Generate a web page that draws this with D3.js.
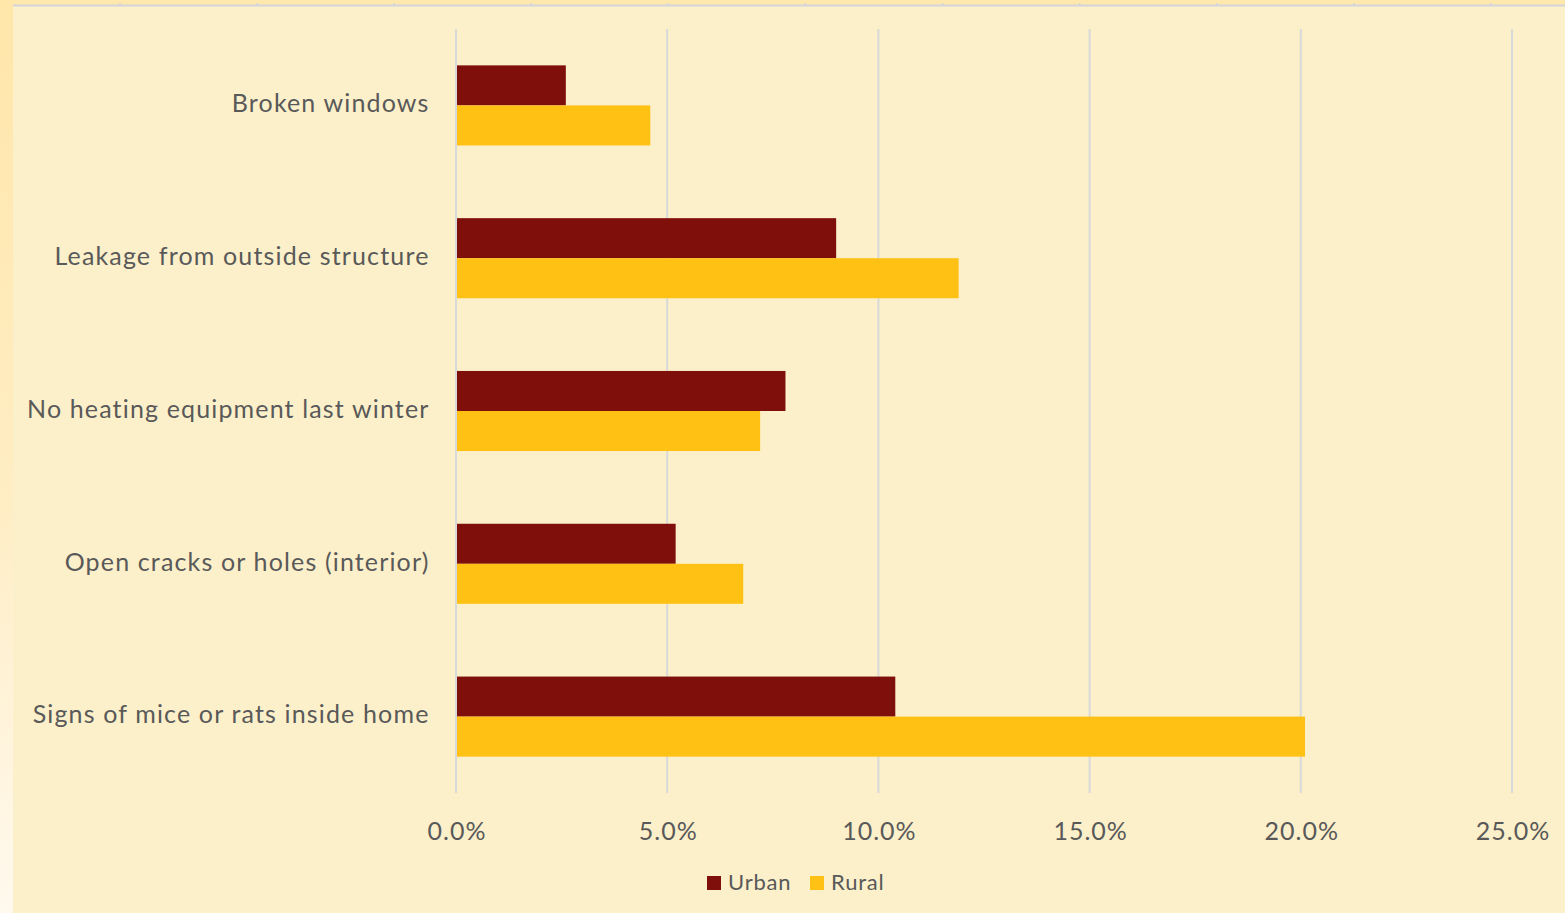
<!DOCTYPE html>
<html>
<head>
<meta charset="utf-8">
<script src="https://cdn.jsdelivr.net/npm/d3@7"></script>
<style>
  html, body { margin: 0; padding: 0; background: #FCF0CA; }
  svg { display: block; }
  text { font-family: Lato, "Open Sans", sans-serif; fill: #595959; }
</style>
</head>
<body>
<svg id="chart" width="1565" height="913"></svg>
<script>
// Housing problems by area type (share of households)
const categories = [
  "Broken windows",
  "Leakage from outside structure",
  "No heating equipment last winter",
  "Open cracks or holes (interior)",
  "Signs of mice or rats inside home"
];
const seriesNames = ["Urban", "Rural"];
const urbanValues = [2.6, 9.0, 7.8, 5.2, 10.4];
const ruralValues = [4.6, 11.9, 7.2, 6.8, 20.1];
const xTicks = [0, 5, 10, 15, 20, 25];
const colors = ["#7F0F0A", "#FFC114"];

const W = 1565, H = 913;
const svg = d3.select("#chart");

// page background, left and top frame strips
const defs = svg.append("defs");
const grad = defs.append("linearGradient").attr("id", "leftStrip")
  .attr("x1", 0).attr("y1", 0).attr("x2", 0).attr("y2", 1);
grad.append("stop").attr("offset", "0%").attr("stop-color", "#FFE6A9");
grad.append("stop").attr("offset", "55%").attr("stop-color", "#FFEDC4");
grad.append("stop").attr("offset", "100%").attr("stop-color", "#FFF9EE");

svg.append("rect").attr("x", 0).attr("y", 0).attr("width", W).attr("height", H).attr("fill", "#FCF0CA");
svg.append("rect").attr("x", 0).attr("y", 0).attr("width", W).attr("height", 5).attr("fill", "#FFE8AE");
svg.append("rect").attr("x", 0).attr("y", 0).attr("width", 13).attr("height", H).attr("fill", "url(#leftStrip)");
svg.append("line").attr("x1", 13).attr("x2", W).attr("y1", 5.5).attr("y2", 5.5)
  .attr("stroke", "#D3D3DA").attr("stroke-width", 2);
const topTicks = d3.range(120, W, 137.1);
svg.append("g").selectAll("line").data(topTicks).join("line")
  .attr("x1", d => d).attr("x2", d => d).attr("y1", 3).attr("y2", 5)
  .attr("stroke", "#D3D3DA").attr("stroke-width", 1.5);

// scales
const x = d3.scaleLinear().domain([0, 25]).range([456, 1512]);
const y = d3.scaleBand().domain(categories).range([29, 793]).paddingInner(0.476).paddingOuter(0.238);
const ySub = d3.scaleBand().domain(seriesNames).range([0, y.bandwidth()]);

// gridlines
svg.append("g").selectAll("line").data(xTicks).join("line")
  .attr("x1", d => x(d)).attr("x2", d => x(d))
  .attr("y1", 29).attr("y2", 793)
  .attr("stroke", "#D9D9D9").attr("stroke-width", 2);

// bars
const rows = categories.map((c, i) => ({ cat: c, vals: [urbanValues[i], ruralValues[i]] }));
const groups = svg.append("g").selectAll("g").data(rows).join("g")
  .attr("transform", d => `translate(0,${y(d.cat)})`);
groups.selectAll("rect").data(d => d.vals.map((v, k) => ({ v, s: seriesNames[k], k })))
  .join("rect")
  .attr("x", x(0) + 1)
  .attr("y", d => ySub(d.s))
  .attr("width", d => x(d.v) - x(0) - 1)
  .attr("height", ySub.bandwidth())
  .attr("fill", d => colors[d.k]);

// category labels
const yAxis = d3.axisLeft(y).tickSize(0).tickPadding(0);
const gy = svg.append("g").attr("transform", "translate(429.5,-2)").call(yAxis);
gy.select(".domain").remove();
gy.selectAll("text")
  .attr("font-size", 25).attr("fill", "#595959")
  .attr("letter-spacing", 1.15)
  .style("font-family", "Lato, 'Open Sans', sans-serif")
  .attr("dy", "0.35em");

// value axis labels
const xAxis = d3.axisBottom(x).tickValues(xTicks).tickSize(0).tickPadding(0)
  .tickFormat(d => d3.format(".1f")(d) + "%");
const gx = svg.append("g").attr("transform", "translate(0.5,831)").call(xAxis);
gx.select(".domain").remove();
gx.selectAll("text")
  .attr("font-size", 25).attr("fill", "#595959")
  .attr("letter-spacing", 1.0)
  .style("font-family", "Lato, 'Open Sans', sans-serif")
  .attr("y", 0).attr("dy", "0.35em");

// legend
const legendItems = [
  { name: seriesNames[0], color: colors[0], x: 707 },
  { name: seriesNames[1], color: colors[1], x: 810 }
];
const lg = svg.append("g").selectAll("g").data(legendItems).join("g")
  .attr("transform", d => `translate(${d.x},876)`);
lg.append("rect").attr("width", 14).attr("height", 14).attr("fill", d => d.color);
lg.append("text").attr("x", 21).attr("y", 6).attr("dy", "0.35em")
  .attr("font-size", 22).attr("letter-spacing", 0.8).text(d => d.name);
</script>
</body>
</html>
